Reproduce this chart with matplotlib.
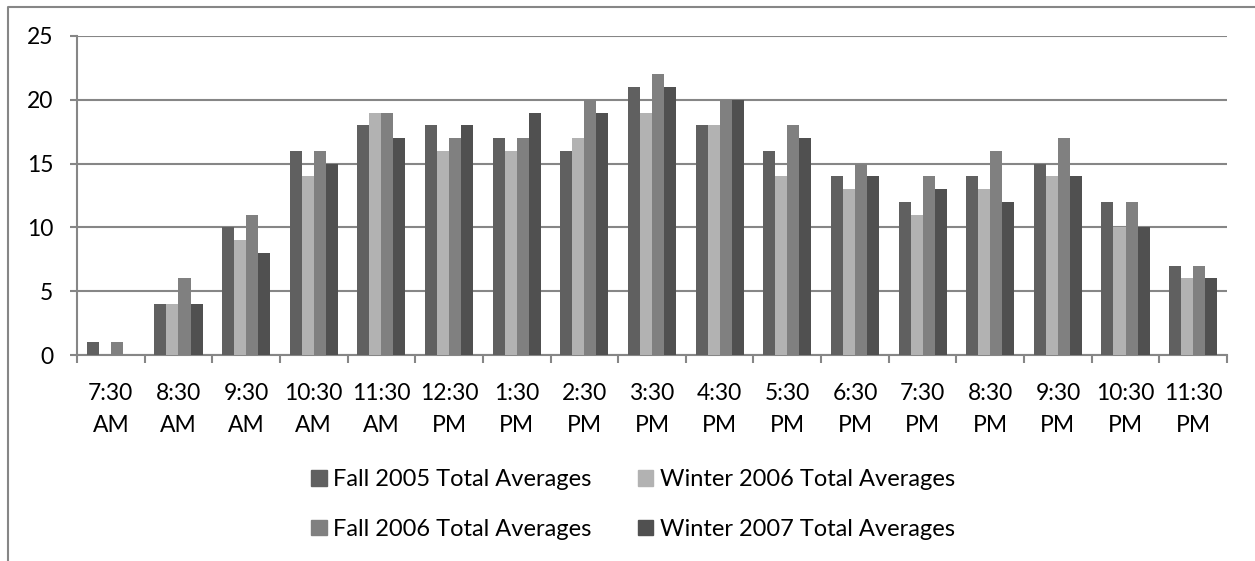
import matplotlib
matplotlib.use("Agg")
import matplotlib.pyplot as plt
import numpy as np
from matplotlib.lines import Line2D
from matplotlib.patches import Patch

categories = ["7:30\nAM", "8:30\nAM", "9:30\nAM", "10:30\nAM", "11:30\nAM",
              "12:30\nPM", "1:30\nPM", "2:30\nPM", "3:30\nPM", "4:30\nPM",
              "5:30\nPM", "6:30\nPM", "7:30\nPM", "8:30\nPM", "9:30\nPM",
              "10:30\nPM", "11:30\nPM"]
fall_2005 = [1, 4, 10, 16, 18, 18, 17, 16, 21, 18, 16, 14, 12, 14, 15, 12, 7]
winter_2006 = [0, 4, 9, 14, 19, 16, 16, 17, 19, 18, 14, 13, 11, 13, 14, 10, 6]
fall_2006 = [1, 6, 11, 16, 19, 17, 17, 20, 22, 20, 18, 15, 14, 16, 17, 12, 7]
winter_2007 = [0, 4, 8, 15, 17, 18, 19, 19, 21, 20, 17, 14, 13, 12, 14, 10, 6]
series_names = ["Fall 2005 Total Averages", "Winter 2006 Total Averages",
                "Fall 2006 Total Averages", "Winter 2007 Total Averages"]
y_ticks = [0, 5, 10, 15, 20, 25]

colors = ["#606060", "#b2b2b2", "#808080", "#505050"]
grid_col = "#868686"
FS = 16.5
LFS = 17

plt.rcParams['font.family'] = ['Lato', 'DejaVu Sans']
W, H = 1255, 561
fig = plt.figure(figsize=(W / 100, H / 100), dpi=100)
ax = fig.add_axes([77 / W, 1 - 355 / H, (1227 - 77) / W, (355 - 36) / H])

x = np.arange(len(categories))
bw = 0.178
all_series = [fall_2005, winter_2006, fall_2006, winter_2007]
for i, (vals, col) in enumerate(zip(all_series, colors)):
    ax.bar(x + (i - 1.5) * bw, vals, width=bw, color=col, linewidth=0, zorder=3)

ax.set_xlim(-0.5, len(categories) - 0.5)
ax.set_ylim(0, 25)
ax.set_yticks(y_ticks)
ax.set_yticklabels([str(v) for v in y_ticks], fontsize=FS)
ax.yaxis.grid(True, color=grid_col, linewidth=1.5, zorder=0)
ax.set_axisbelow(True)

ax.set_xticks(x)
ax.set_xticklabels(categories, fontsize=FS, linespacing=1.62)
ax.set_xticks(np.arange(-0.5, len(categories), 1), minor=True)
ax.tick_params(axis='x', which='major', length=0, pad=20.5)
ax.tick_params(axis='x', which='minor', length=6, width=1.5, color=grid_col, direction='out')
ax.tick_params(axis='y', length=5, width=1.5, color=grid_col, pad=12)

for s in ['top', 'right']:
    ax.spines[s].set_visible(False)
for s in ['left', 'bottom']:
    ax.spines[s].set_color(grid_col)
    ax.spines[s].set_linewidth(1.5)

# outer chart border (partially cropped)
fig.add_artist(Line2D([8 / W, 8 / W, 1.0], [0, 1 - 7 / H, 1 - 7 / H],
                      transform=fig.transFigure, color=grid_col, linewidth=1.5))

handles = [Patch(color=c) for c in colors]
order = [0, 2, 1, 3]
leg = fig.legend([handles[i] for i in order], [series_names[i] for i in order],
                 ncol=2, loc='upper left', bbox_to_anchor=(311 / W, 1 - 469 / H),
                 frameon=False, fontsize=LFS, handlelength=0.66, handleheight=0.64,
                 handletextpad=0.28, columnspacing=1.95, labelspacing=1.22,
                 borderaxespad=0, borderpad=0)

fig.savefig("out.png", dpi=100)
